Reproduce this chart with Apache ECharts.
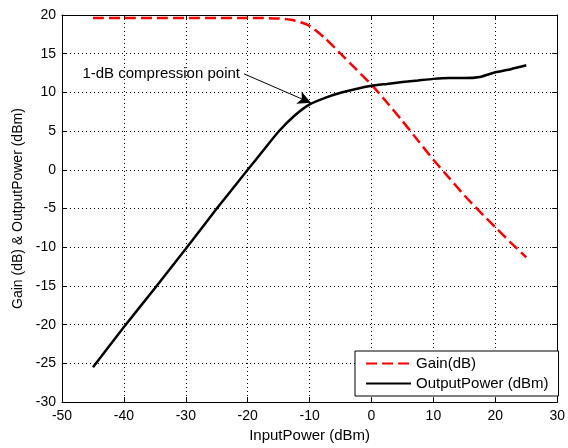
<!DOCTYPE html>
<html>
<head>
<meta charset="utf-8">
<script src="https://cdn.jsdelivr.net/npm/echarts@6/dist/echarts.min.js"></script>
<style>
html,body{margin:0;padding:0;background:#fff;}
#c{width:568px;height:448px;}
</style>
</head>
<body>
<div id="c"></div>
<script>
const inputPower = [-45,-40,-35,-30,-25,-20,-17.5,-15,-12.5,-10,-7.5,-5,-2.5,0,2.5,5,7.5,10,12.5,15,17.5,20,22.5,25];
const gainDb = [19.6,19.6,19.6,19.6,19.6,19.6,19.6,19.55,19.3,18.6,17.0,15.0,13.0,11.0,8.7,6.3,3.8,1.3,-1.0,-3.3,-5.4,-7.4,-9.4,-11.3];
const outputPower = [-25.5,-20.3,-15.3,-10.2,-5.0,0.0,2.5,4.95,6.95,8.45,9.3,9.95,10.45,10.85,11.1,11.35,11.55,11.75,11.85,11.85,12.0,12.6,13.0,13.5];
const xTicks = [-50,-40,-30,-20,-10,0,10,20,30];
const yTicks = [-30,-25,-20,-15,-10,-5,0,5,10,15,20];
const annotationText = '1-dB compression point';
const arrowFrom = [-20.6, 12.4];
const arrowTo = [-9.8, 8.65];

const font = 'Liberation Sans, Arial, sans-serif';
const chart = echarts.init(document.getElementById('c'), null, {renderer:'canvas'});
const zip = (xs, ys) => xs.map((x,i)=>[x, ys[i]]);

const axisCommon = {
  axisLine:{show:true, onZero:false, lineStyle:{color:'#000', width:1}},
  axisTick:{show:true, inside:true, length:5, lineStyle:{color:'#000'}},
  splitLine:{show:false}
};
const gridLine = {show:true, lineStyle:{color:'#000', type:[1,3], width:1}};

chart.setOption({
  animation:false,
  backgroundColor:'#fff',
  grid:{left:62, right:8, top:15, bottom:44, containLabel:false},
  xAxis:[{
    type:'value', min:-50, max:30, interval:10, position:'bottom',
    name:'InputPower (dBm)', nameLocation:'middle', nameGap:22,
    nameTextStyle:{color:'#000', fontSize:15, fontFamily:font},
    axisLabel:{color:'#000', fontSize:14, fontFamily:font, margin:7},
    ...axisCommon, splitLine:gridLine
  },{
    type:'value', min:-50, max:30, interval:10, position:'top',
    axisLabel:{show:false}, ...axisCommon
  }],
  yAxis:[{
    type:'value', min:-30, max:20, interval:5, position:'left',
    name:'Gain (dB) & OutputPower (dBm)', nameLocation:'middle', nameGap:37,
    nameTextStyle:{color:'#000', fontSize:14, fontFamily:font},
    axisLabel:{color:'#000', fontSize:14, fontFamily:font, margin:6},
    ...axisCommon, splitLine:gridLine
  },{
    type:'value', min:-30, max:20, interval:5, position:'right',
    axisLabel:{show:false}, ...axisCommon
  }],
  legend:{
    left:355, top:351, orient:'vertical',
    backgroundColor:'#fff', borderColor:'#000', borderWidth:1, borderRadius:0,
    padding:[5,10,5,10], itemGap:5, itemWidth:45, itemHeight:16,
    itemStyle:{opacity:0},
    textStyle:{color:'#000', fontSize:15, fontFamily:font},
    data:['Gain(dB)','OutputPower (dBm)']
  },
  series:[{
    name:'Gain(dB)', type:'line', smooth:0.2, symbol:'none',
    data: zip(inputPower, gainDb),
    lineStyle:{color:'#ff0000', width:2.5, type:[11,5]},
    itemStyle:{color:'#ff0000'}
  },{
    name:'OutputPower (dBm)', type:'line', smooth:0.2, symbol:'none',
    data: zip(inputPower, outputPower),
    lineStyle:{color:'#000', width:2.5},
    itemStyle:{color:'#000'},
    markLine:{
      silent:true, symbol:['none','arrow'], symbolSize:[10,13],
      lineStyle:{color:'#000', width:1, type:'solid'},
      label:{show:false},
      data:[[{coord:arrowFrom},{coord:arrowTo}]]
    },
    markPoint:{
      silent:true, symbol:'circle', symbolSize:0,
      label:{show:true, position:'left', distance:4, color:'#000', fontSize:15, fontFamily:font, formatter:annotationText},
      data:[{coord:arrowFrom}]
    }
  }]
});
</script>
</body>
</html>
